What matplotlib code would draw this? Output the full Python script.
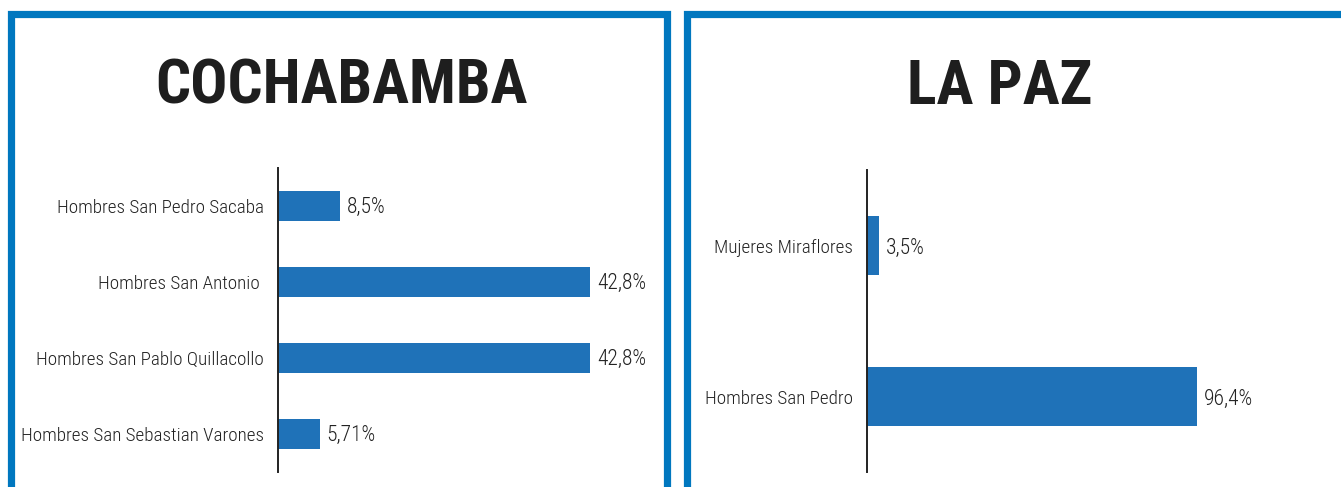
import matplotlib.pyplot as plt
from matplotlib import font_manager
from matplotlib.patches import Rectangle

# data
cbba_labels = ["Hombres San Pedro Sacaba", "Hombres San Antonio ", "Hombres San Pablo Quillacollo", "Hombres San Sebastian Varones"]
cbba_values = [8.5, 42.8, 42.8, 5.71]
cbba_text = ["8,5%", "42,8%", "42,8%", "5,71%"]

lpz_labels = ["Mujeres Miraflores", "Hombres San Pedro"]
lpz_values = [3.5, 96.4]
lpz_text = ["3,5%", "96,4%"]

W, H = 1341, 487
BLUE = "#0077bf"
BAR = "#1f72b8"

installed = {f.name for f in font_manager.fontManager.ttflist}
def pick(*names):
    for n in names:
        if n in installed:
            return n
    return "DejaVu Sans"

TITLE_FONT = pick("Roboto Condensed", "Liberation Sans Narrow", "Roboto")
LABEL_FONT = pick("Roboto Condensed", "Liberation Sans Narrow", "Roboto")
narrow = LABEL_FONT != "Roboto"

fig = plt.figure(figsize=(W / 100, H / 100), dpi=100)

# panel frames (pixel coords -> figure fraction)
def frame(x0, x1, top):
    r = Rectangle((x0 / W, -0.1), (x1 - x0) / W, 1.1 - top / H,
                  transform=fig.transFigure, fill=False, edgecolor=BLUE,
                  linewidth=5.2, clip_on=False)
    fig.add_artist(r)

frame(10.5, 666.5, 13.5)
frame(686.5, 1400, 13.5)

for x, t in [(341, "COCHABAMBA"), (1000, "LA PAZ")]:
    fig.text(x / W, 1 - 87 / H, t, ha="center", va="center",
             fontsize=44.5, fontweight="heavy", family=TITLE_FONT, color="#1e1e1e")

lsize = 13.8 if narrow else 12.5
vsize = 15.5 if narrow else 13.5


def panel(x0, top, bottom, px_per_unit, labels, values, texts):
    width_px = 420
    ax = fig.add_axes([x0 / W, 1 - bottom / H, width_px / W, (bottom - top) / H])
    n = len(labels)
    ax.barh(range(n), values, height=0.39, color=BAR)
    ax.set_ylim(n - 0.5, -0.5)
    ax.set_xlim(0, width_px / px_per_unit)
    for s in ["top", "right", "bottom"]:
        ax.spines[s].set_visible(False)
    ax.spines["left"].set_linewidth(1.4)
    ax.spines["left"].set_color("#222222")
    ax.set_xticks([])
    ax.set_yticks(range(n))
    ax.set_yticklabels(labels, family=LABEL_FONT, fontweight="light",
                       fontsize=lsize, color="#222222")
    ax.tick_params(axis="y", length=0, pad=10)
    ax.patch.set_alpha(0)
    for i, (v, t) in enumerate(zip(values, texts)):
        ax.text(v + 7 / px_per_unit, i + 0.02, t, va="center", ha="left",
                family=LABEL_FONT, fontweight="light", fontsize=vsize, color="#222222")
    return ax


panel(278, 168, 472, 7.29, cbba_labels, cbba_values, cbba_text)
panel(867, 170, 472, 3.42, lpz_labels, lpz_values, lpz_text)

fig.savefig("out.png", dpi=100)
